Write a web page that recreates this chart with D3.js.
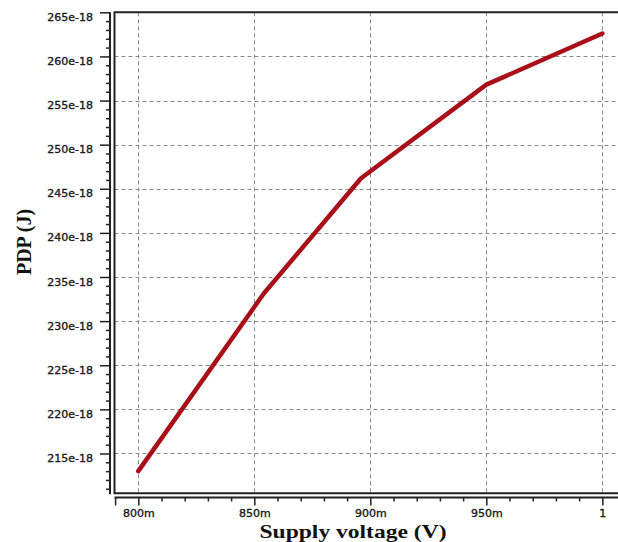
<!DOCTYPE html>
<html>
<head>
<meta charset="utf-8">
<script src="https://cdn.jsdelivr.net/npm/d3@7"></script>
<style>
  html, body { margin: 0; padding: 0; background: #fff; }
  svg { display: block; }
  .tick text { font-family: "DejaVu Sans", sans-serif; font-size: 11px; fill: #1a1a1a;
               stroke: #1a1a1a; stroke-width: 0.35px; }
</style>
</head>
<body>
<svg id="chart" width="618" height="542"></svg>
<script>
// Supply voltage sweep (mV) and the resulting power-delay product (×1e-18 J)
const voltage = [800, 854, 896, 950, 1000];
const pdp = [213.0, 233.1, 246.2, 256.8, 262.6];

// Axis ticks
const xMajor = [800, 850, 900, 950, 1000];
const xMajorLabels = ["800m", "850m", "900m", "950m", "1"];
const yMajor = [215, 220, 225, 230, 235, 240, 245, 250, 255, 260, 265];
const yMajorLabels = ["215e-18", "220e-18", "225e-18", "230e-18", "235e-18", "240e-18",
                      "245e-18", "250e-18", "255e-18", "260e-18", "265e-18"];

const svg = d3.select("#chart");

const plot = { left: 114.5, top: 12.3, bottom: 493.2, right: 640 };

const x = d3.scaleLinear().domain([790, 1012.7]).range([115.1, 631.8]);
const y = d3.scaleLinear().domain([210.5, 265]).range([493.2, 12.3]);

// Dashed grid
const grid = svg.append("g").attr("stroke", "#8a8a8a").attr("stroke-width", 1)
  .attr("stroke-dasharray", "4,3").attr("fill", "none");
grid.selectAll("line.v").data(xMajor).join("line")
  .attr("x1", d => Math.round(x(d)) + 0.5).attr("x2", d => Math.round(x(d)) + 0.5)
  .attr("y1", plot.top).attr("y2", plot.bottom);
grid.selectAll("line.h").data(yMajor.filter(d => d < 265)).join("line")
  .attr("y1", d => Math.round(y(d)) + 0.5).attr("y2", d => Math.round(y(d)) + 0.5)
  .attr("x1", plot.left).attr("x2", plot.right);

// Plot frame (top, left, bottom)
svg.append("path")
  .attr("d", `M${plot.right},${plot.top} H${plot.left} V${plot.bottom} H${plot.right}`)
  .attr("fill", "none").attr("stroke", "#222").attr("stroke-width", 2);

// Y axis, offset left of the frame
const yAxis = d3.axisLeft(y)
  .tickValues(d3.range(211, 266, 1))
  .tickSize(4)
  .tickFormat("");
const gy = svg.append("g").attr("transform", "translate(110,0)").call(yAxis);
gy.select(".domain").attr("stroke", "#222").attr("stroke-width", 2)
  .attr("d", `M0,${plot.top}V${plot.bottom + 1}`);
gy.selectAll(".tick line").attr("stroke", "#222").attr("stroke-width", 1.5)
  .attr("x2", d => (d % 5 === 0 ? -10 : -4));
gy.selectAll(".tick").filter(d => d % 5 === 0).append("text")
  .attr("x", -17).attr("dy", 8)
  .attr("text-anchor", "end")
  .text(d => yMajorLabels[yMajor.indexOf(d)]);

// X axis, offset below the frame
const xAxis = d3.axisBottom(x)
  .tickValues(d3.range(790, 1011, 10))
  .tickSize(4)
  .tickFormat("");
const gx = svg.append("g").attr("transform", "translate(0,497.5)").call(xAxis);
gx.select(".domain").attr("stroke", "#222").attr("stroke-width", 2)
  .attr("d", `M${plot.left},0H${plot.right}`);
gx.selectAll(".tick line").attr("stroke", "#222").attr("stroke-width", 1.5)
  .attr("y2", d => (d % 50 === 0 ? 8 : 4));
gx.selectAll(".tick").filter(d => d % 50 === 0).append("text")
  .attr("y", 19)
  .attr("text-anchor", "middle")
  .text(d => xMajorLabels[xMajor.indexOf(d)]);
gx.selectAll(".tick").filter(d => d === 790).select("line").attr("y2", 8);

// Data line
const line = d3.line().x((d, i) => x(voltage[i])).y(d => y(d));
svg.append("path")
  .datum(pdp)
  .attr("d", line)
  .attr("fill", "none")
  .attr("stroke", "#a80f18")
  .attr("stroke-width", 4.5)
  .attr("stroke-linecap", "round")
  .attr("stroke-linejoin", "round");

// Axis titles
svg.append("text")
  .attr("x", 353).attr("y", 537.5)
  .attr("text-anchor", "middle")
  .attr("textLength", 187)
  .attr("lengthAdjust", "spacingAndGlyphs")
  .style("font-family", "Liberation Serif, Times New Roman, serif")
  .style("font-weight", "bold")
  .style("font-size", "19.5px")
  .attr("fill", "#111")
  .text("Supply voltage (V)");

svg.append("text")
  .attr("transform", "translate(31,242) rotate(-90)")
  .attr("text-anchor", "middle")
  .style("font-family", "Liberation Serif, Times New Roman, serif")
  .style("font-weight", "bold")
  .style("font-size", "20px")
  .attr("fill", "#111")
  .text("PDP (J)");
</script>
</body>
</html>
